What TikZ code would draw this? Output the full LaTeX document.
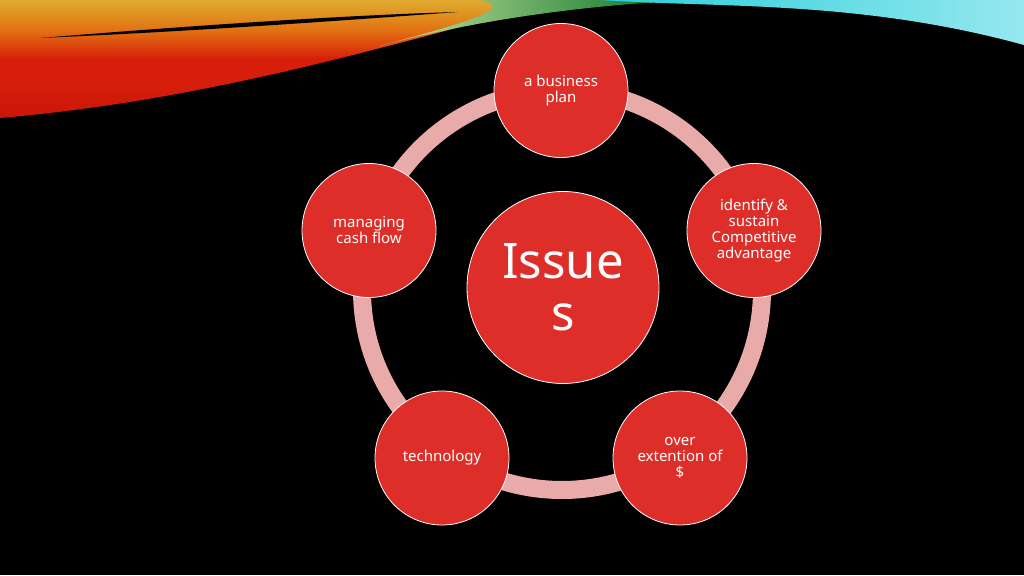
\documentclass[tikz,border=0pt]{standalone}
\usepackage{fontspec}
\setmainfont{Noto Sans}

\definecolor{issuered}{RGB}{221,46,42}
\definecolor{ringpink}{RGB}{233,170,170}
\definecolor{warmtop}{RGB}{236,204,84}
\definecolor{warmgold}{RGB}{222,160,40}
\definecolor{warmmid}{RGB}{226,112,18}
\definecolor{warmred}{RGB}{214,30,10}
\definecolor{warmbot}{RGB}{180,10,6}
\definecolor{swgreen}{RGB}{20,120,45}
\definecolor{swlight}{RGB}{200,230,160}
\definecolor{swcyan}{RGB}{40,205,215}
\definecolor{swpale}{RGB}{150,232,240}

\pgfdeclareverticalshading{warmband}{100bp}{
  color(0bp)=(warmbot); color(40bp)=(warmred); color(50bp)=(warmred);
  color(62bp)=(warmmid); color(72bp)=(warmgold); color(88bp)=(warmtop);
  color(100bp)=(warmtop)}

\tikzset{
  issue/.style={circle, fill=issuered, draw=white, line width=0.8pt,
    inner sep=0pt, align=center, text=white,
    font=\fontsize{15}{16}\selectfont},
  small/.style={issue, minimum size=134pt},
  big/.style={issue, minimum size=192pt,
    font=\fontsize{49}{52}\selectfont}
}

\begin{document}
\begin{tikzpicture}[x=1pt,y=-1pt]
      \useasboundingbox (0,0) rectangle (1024,575);
      \fill[black] (0,0) rectangle (1024,575);
      % swoosh at the top
      \shade[shading=warmband]
        (0,0) -- (0,118) .. controls (210,100) and (390,45) .. (560,0) -- cycle;
      \fill[black] (40,38) .. controls (200,25) and (350,15) .. (458,12)
        .. controls (350,20) and (200,31) .. (40,38);
      \shade[left color=swlight, right color=swgreen]
        (380,46) .. controls (460,24) and (560,8) .. (660,2) -- (660,0)
        -- (480,0) .. controls (520,8) and (460,24) .. (380,46);
      \shade[left color=swcyan, right color=swpale]
        (600,0) .. controls (720,8) and (860,0) .. (1024,45) -- (1024,0) -- cycle;
      % ring behind the circles
      \draw[ringpink, line width=18pt] (562,290) circle (200);
      \node[big] (issues) at (563,287.5) {Issue\\s};
      \node[small] (plan) at (561,90.5) {a business\\plan};
      \node[small] (advantage) at (754,230.5) {identify \&\\sustain\\Competitive\\advantage};
      \node[small] (extention) at (680,458) {over\\extention of\\\$};
      \node[small] (technology) at (442,458) {technology};
      \node[small] (cashflow) at (369,230.5) {managing\\cash flow};
    \end{tikzpicture}
\end{document}
